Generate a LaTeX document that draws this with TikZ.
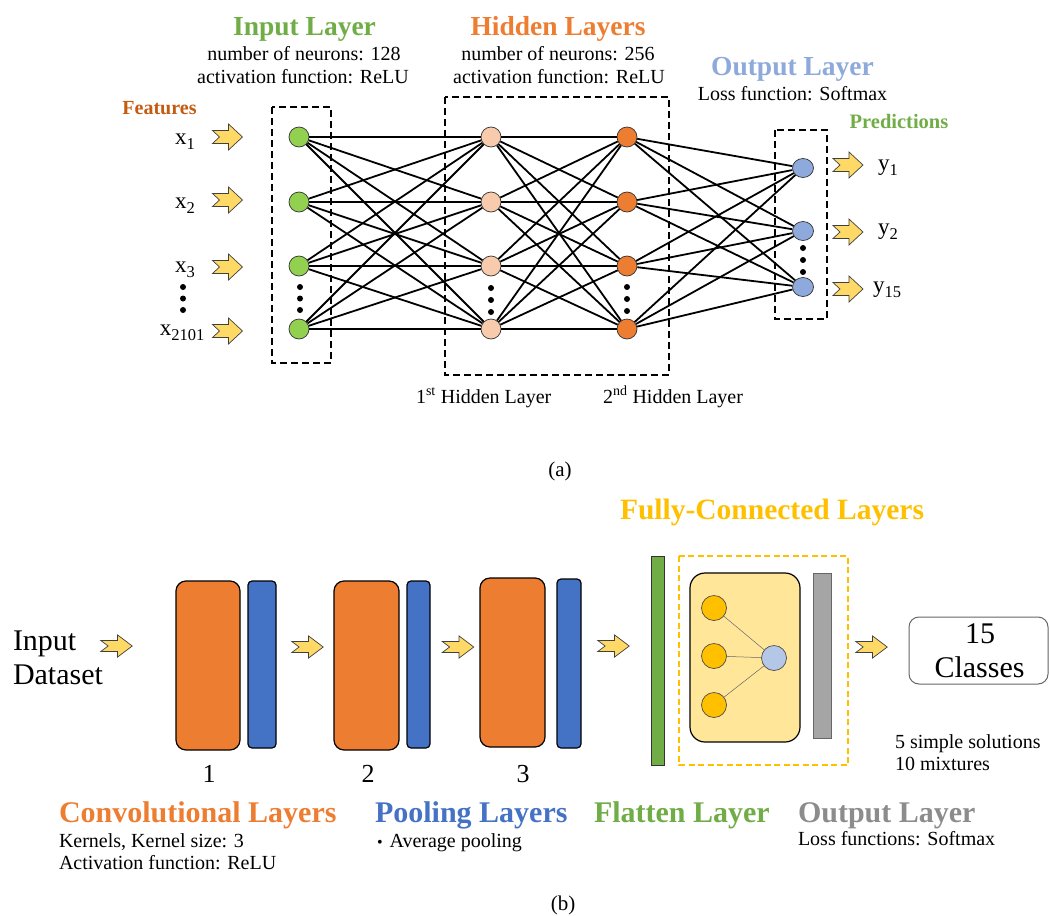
\documentclass[tikz,border=0pt]{standalone}
\usepackage{fontspec}
\setmainfont{Liberation Serif}
\usetikzlibrary{shapes.geometric}
\newcommand\myfs[1]{\fontsize{#1}{#1}\selectfont}
\newcommand\mysub[1]{\raisebox{-5.5pt}{\myfs{16.5}#1}}
\definecolor{cgreen}{HTML}{70AD47}
\definecolor{cgreenfill}{HTML}{92D050}
\definecolor{corange}{HTML}{ED7D31}
\definecolor{cdarkorange}{HTML}{C55A11}
\definecolor{cpeach}{HTML}{F8CBAD}
\definecolor{cblue}{HTML}{4472C4}
\definecolor{clightblue}{HTML}{8EA9DB}
\definecolor{cpaleblue}{HTML}{B4C7E7}
\definecolor{cgold}{HTML}{FFC000}
\definecolor{cpalegold}{HTML}{FFE699}
\definecolor{carrow}{HTML}{FFD966}
\definecolor{cgray}{HTML}{A5A5A5}
\definecolor{cgraytext}{HTML}{8C8C8C}
\begin{document}
\begin{tikzpicture}[x=1pt,y=-1pt,
  txt/.style={inner sep=0pt, outer sep=0pt, anchor=base},
  txtl/.style={inner sep=0pt, outer sep=0pt, anchor=base west},
  neuron/.style={circle, draw=black!80, line width=0.7pt, minimum size=20pt, inner sep=0pt},
  oneuron/.style={ellipse, draw=black!80, line width=0.7pt, minimum width=21pt, minimum height=19pt, inner sep=0pt, fill=clightblue},
  edge/.style={line width=1.8pt, black},
  dotn/.style={circle, fill=black, inner sep=0pt, minimum size=6pt},
  dbox/.style={draw=black, line width=1.8pt, dash pattern=on 7pt off 4pt},
  block/.style={draw=black, line width=1.2pt, inner sep=0pt},
  fcn/.style={circle, draw=black!70, line width=0.7pt, minimum size=25pt, inner sep=0pt},
  thinedge/.style={line width=0.5pt, black!60},
  yarrow/.pic={\draw[fill=carrow, draw=black!75, line width=0.7pt, line join=miter]
     (-15,-6.5) -- (1,-6.5) -- (1,-13) -- (15,0) -- (1,13) -- (1,6.5) -- (-15,6.5) -- (-8,0) -- cycle;}
]
\useasboundingbox (0,0) rectangle (1050,916);

% ---------------- (a) ----------------
\node[txt, font=\myfs{27.5}\bfseries, text=cgreen] (tin) at (304.5,35) {Input Layer};
\node[txt, font=\myfs{20}] (tin1) at (304,60) {number of neurons: 128};
\node[txt, font=\myfs{20}] (tin2) at (303,83) {activation function: ReLU};
\node[txt, font=\myfs{27.5}\bfseries, text=corange] (thid) at (558,35) {Hidden Layers};
\node[txt, font=\myfs{20}] (thid1) at (558,60) {number of neurons: 256};
\node[txt, font=\myfs{20}] (thid2) at (559,83) {activation function: ReLU};
\node[txt, font=\myfs{27.5}\bfseries, text=clightblue] (tout) at (792.5,75) {Output Layer};
\node[txt, font=\myfs{20}] (tout1) at (792.5,100) {Loss function: Softmax};
\node[txt, font=\myfs{20}\bfseries, text=cdarkorange] (tfeat) at (159.5,114) {Features};
\node[txt, font=\myfs{20.5}\bfseries, text=cgreen] (tpred) at (899,128) {Predictions};
\node[txtl, font=\myfs{20}] (th1) at (416,403) {1\textsuperscript{st} Hidden Layer};
\node[txtl, font=\myfs{20}] (th2) at (603,403) {2\textsuperscript{nd} Hidden Layer};
\node[txt, font=\myfs{21}] (ta) at (560,476) {(a)};

% dashed boxes
\draw[dbox] (272,107) rectangle (331,363);
\draw[dbox] (445,97) rectangle (669,375);
\draw[dbox] (775,130) rectangle (827,319);

% neurons
\foreach \i/\y in {1/137,2/202,3/266,4/329}{
  \node[neuron, fill=cgreenfill] (in\i) at (299,\y) {};
  \node[neuron, fill=cpeach] (ha\i) at (491,\y) {};
  \node[neuron, fill=corange] (hb\i) at (627,\y) {};
}
\node[oneuron] (o1) at (803,168) {};
\node[oneuron] (o2) at (803,231) {};
\node[oneuron] (o3) at (803,287) {};

% edges
\foreach \i in {1,...,4}{
  \foreach \j in {1,...,4}{
    \draw[edge] (in\i) -- (ha\j);
    \draw[edge] (ha\i) -- (hb\j);
  }
  \foreach \j in {1,...,3}{
    \draw[edge] (hb\i) -- (o\j);
  }
}

% dots
\foreach \k/\y in {1/287,2/298.5,3/310}{
  \node[dotn] (xd\k) at (183,\y) {};
  \node[dotn] (ind\k) at (300,\y) {};
}
\foreach \k/\y in {1/288,2/300,3/312}{
  \node[dotn] (had\k) at (491,\y) {};
  \node[dotn] (hbd\k) at (627,\y-1) {};
}
\foreach \k/\y in {1/248,2/260,3/272}{
  \node[dotn] (od\k) at (803,\y) {};
}

% input labels and arrows
\node[txt, font=\myfs{23}] (x1) at (185,144) {x\mysub{1}};
\node[txt, font=\myfs{23}] (x2) at (185,208) {x\mysub{2}};
\node[txt, font=\myfs{23}] (x3) at (185,272) {x\mysub{3}};
\node[txt, font=\myfs{23}] (x4) at (182,335) {x\mysub{2101}};
\pic at (227.5,137) {yarrow};
\pic at (227.5,200) {yarrow};
\pic at (227.5,267) {yarrow};
\pic at (227.5,331) {yarrow};
\pic at (848,165) {yarrow};
\pic at (848,232) {yarrow};
\pic at (848,289) {yarrow};
\node[txtl, font=\myfs{23}] (y1) at (878,170) {y\mysub{1}};
\node[txtl, font=\myfs{23}] (y2) at (878,234) {y\mysub{2}};
\node[txtl, font=\myfs{23}] (y3) at (873,292) {y\mysub{15}};

% ---------------- (b) ----------------
\node[txt, font=\myfs{29.5}\bfseries, text=cgold] (tfc) at (772,519) {Fully-Connected Layers};
\node[txtl, font=\myfs{30}] (tinput) at (13,650) {Input};
\node[txtl, font=\myfs{30}] (tdata) at (13,684) {Dataset};

\node[block, fill=corange, rounded corners=10pt, minimum width=64pt, minimum height=169pt] (c1) at (208,665.5) {};
\node[block, fill=cblue, rounded corners=4pt, minimum width=28pt, minimum height=167pt] (p1) at (262,664.5) {};
\node[block, fill=corange, rounded corners=10pt, minimum width=65pt, minimum height=169pt] (c2) at (366.5,665.5) {};
\node[block, fill=cblue, rounded corners=4pt, minimum width=23pt, minimum height=167pt] (p2) at (418.5,664.5) {};
\node[block, fill=corange, rounded corners=10pt, minimum width=65pt, minimum height=169pt] (c3) at (512.5,662.5) {};
\node[block, fill=cblue, rounded corners=4pt, minimum width=24pt, minimum height=169pt] (p3) at (569,663.5) {};

\pic[xscale=1.05, yscale=0.85] at (116.5,646) {yarrow};
\pic[xscale=1.05, yscale=0.85] at (307.5,647) {yarrow};
\pic[xscale=1.05, yscale=0.85] at (458,647) {yarrow};
\pic[xscale=1.05, yscale=0.85] at (613.5,646) {yarrow};
\pic[xscale=1.05, yscale=0.85] at (871.5,647) {yarrow};

\node[txt, font=\myfs{26}] (n1) at (209,782) {1};
\node[txt, font=\myfs{26}] (n2) at (368,782) {2};
\node[txt, font=\myfs{26}] (n3) at (523,782) {3};

\node[draw=black!80, line width=0.8pt, fill=cgreen, inner sep=0pt, minimum width=13pt, minimum height=209pt] (flat) at (657.5,660.5) {};
\draw[draw=cgold, line width=1.8pt, dash pattern=on 6pt off 3.5pt] (679,556) rectangle (848,765);
\node[block, fill=cpalegold, rounded corners=15pt, minimum width=110pt, minimum height=169pt] (fcbox) at (745,657.5) {};
\node[draw=black!60, line width=0.8pt, fill=cgray, inner sep=0pt, minimum width=18pt, minimum height=165pt] (outbar) at (822,655.5) {};

\node[fcn, fill=cgold] (f1) at (714,608) {};
\node[fcn, fill=cgold] (f2) at (714,656) {};
\node[fcn, fill=cgold] (f3) at (714,705) {};
\node[fcn, fill=cpaleblue] (fo) at (774,658) {};
\draw[thinedge] (f1) -- (fo);
\draw[thinedge] (f2) -- (fo);
\draw[thinedge] (f3) -- (fo);

\node[draw=black!60, line width=1pt, rounded corners=10pt, minimum width=139pt, minimum height=67pt, inner sep=0pt] (classes) at (978.5,650.5) {};
\node[txt, font=\myfs{30}] (t15) at (980,643) {15};
\node[txt, font=\myfs{30}] (tclasses) at (979.5,677) {Classes};

\node[txtl, font=\myfs{20}] (ts1) at (895,748) {5 simple solutions};
\node[txtl, font=\myfs{20}] (ts2) at (895,770) {10 mixtures};

\node[txtl, font=\myfs{30}\bfseries, text=corange] (tconv) at (59,822) {Convolutional Layers};
\node[txtl, font=\myfs{20}] (tconv1) at (59,847) {Kernels, Kernel size: 3};
\node[txtl, font=\myfs{20}] (tconv2) at (59,869) {Activation function: ReLU};
\node[txtl, font=\myfs{30}\bfseries, text=cblue] (tpool) at (375,822) {Pooling Layers};
\node[txtl, font=\myfs{20}] (tpool1) at (377,847) {{\myfs{16}\textbullet}\hspace{7pt}Average pooling};
\node[txtl, font=\myfs{30}\bfseries, text=cgraytext] (toutl) at (798,822) {Output Layer};
\node[txtl, font=\myfs{30}\bfseries, text=cgreen] (tflat) at (594,822) {Flatten Layer};
\node[txtl, font=\myfs{20}] (toutl1) at (798,845) {Loss functions: Softmax};
\node[txt, font=\myfs{21}] (tb) at (563,910) {(b)};
\end{tikzpicture}
\end{document}
